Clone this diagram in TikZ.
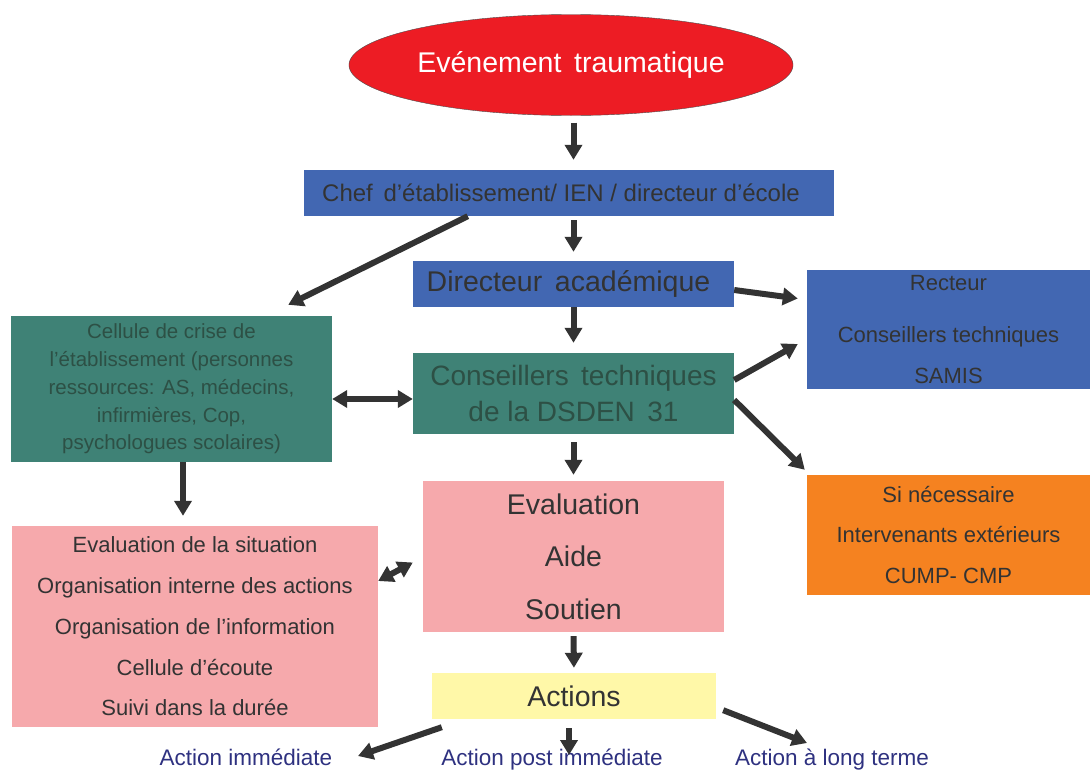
\documentclass[tikz,border=0pt]{standalone}
\usepackage{fontspec}
\setmainfont{Liberation Sans}
\usetikzlibrary{shapes.geometric,arrows.meta}
\definecolor{evtred}{RGB}{237,28,36}
\definecolor{boxblue}{RGB}{66,103,178}
\definecolor{boxteal}{RGB}{63,130,118}
\definecolor{tealtext}{RGB}{45,80,69}
\definecolor{boxpink}{RGB}{246,169,172}
\definecolor{boxorange}{RGB}{245,130,32}
\definecolor{boxyellow}{RGB}{255,248,168}
\definecolor{textgray}{RGB}{51,51,51}
\definecolor{arrgray}{RGB}{51,51,51}
\definecolor{labnavy}{RGB}{46,49,128}
\begin{document}
\begin{tikzpicture}[x=1pt,y=-1pt,
    box/.style={rectangle,inner sep=0pt,align=center,text=textgray},
    arr/.style={draw=arrgray,line width=6pt,-{Triangle[length=15pt,width=17pt]}},
    darr/.style={draw=arrgray,line width=6pt,{Triangle[length=15pt,width=17pt]}-{Triangle[length=15pt,width=17pt]}},
    lab/.style={anchor=base,inner sep=0pt,text=labnavy,font=\fontsize{22.5}{26}\selectfont}]
    \useasboundingbox (0,0) rectangle (1090,771);

    % boxes
    \node[ellipse,draw=black!70,thin,fill=evtred,text=white,minimum width=400pt,minimum height=101pt,
          font=\fontsize{28.5}{32}\selectfont] (evt) at (571,65) {Evénement\, traumatique};
    \node[box,fill=boxblue,minimum width=530pt,minimum height=46pt,font=\fontsize{24}{28}\selectfont]
          (chef) at (569,193) {Chef\, d’établissement/ IEN / directeur d’école\hspace{16pt}};
    \node[box,fill=boxblue,minimum width=321pt,minimum height=46pt,font=\fontsize{28.5}{32}\selectfont]
          (dir) at (573.5,284) {Directeur\, académique\hspace{10pt}};
    \node[box,fill=boxteal,text=tealtext,minimum width=321pt,minimum height=146pt,font=\fontsize{20.5}{27.8}\selectfont]
          (cell) at (171.5,389) {Cellule de crise de\\l’établissement (personnes\\ressources: AS, médecins,\\infirmières, Cop,\\psychologues scolaires)};
    \node[box,fill=boxteal,text=tealtext,minimum width=321pt,minimum height=81pt,font=\fontsize{28}{36}\selectfont]
          (dsden) at (573.5,393.5) {Conseillers\, techniques\\de la DSDEN\, 31};
    \node[box,fill=boxblue,minimum width=283pt,minimum height=119pt,font=\fontsize{22}{41}\selectfont]
          (rect) at (948.5,329.5) {Recteur\\[11pt]Conseillers techniques\\SAMIS};
    \node[box,fill=boxorange,minimum width=283pt,minimum height=120pt,font=\fontsize{22}{40.5}\selectfont]
          (ext) at (948.5,535) {Si nécessaire\\Intervenants extérieurs\\CUMP- CMP};
    \node[box,fill=boxpink,minimum width=366pt,minimum height=201pt,font=\fontsize{22}{40.7}\selectfont]
          (org) at (195,626.5) {Evaluation de la situation\\Organisation interne des actions\\Organisation de l’information\\Cellule d’écoute\\Suivi dans la durée};
    \node[box,fill=boxpink,minimum width=301pt,minimum height=151pt,font=\fontsize{28.5}{52.5}\selectfont]
          (eval) at (573.5,556.5) {Evaluation\\Aide\\Soutien};
    \node[box,fill=boxyellow,minimum width=284pt,minimum height=46pt,font=\fontsize{28.5}{32}\selectfont]
          (act) at (574,696) {Actions};

    % bottom labels
    \node[lab] (im) at (246,765) {Action immédiate};
    \node[lab] (post) at (552,765) {Action post immédiate};
    \node[lab] (long) at (832,765) {Action à long terme};

    % arrows
    \draw[arr,shorten <=7pt,shorten >=10pt] (evt.south -| dir) -- (chef.north -| dir);
    \draw[arr,shorten <=4pt,shorten >=9pt] (chef.south -| dir) -- (dir.north);
    \draw[arr,shorten >=10pt] (dir.south) -- (dsden.north);
    \draw[arr,shorten <=8pt,shorten >=6pt] (dsden.south) -- (eval.north);
    \draw[arr,shorten <=4pt,shorten >=5pt] (eval.south) -- (act.north);
    \draw[arr] ([xshift=164pt]chef.south west) -- ([xshift=-44pt,yshift=11pt]cell.north east);
    \draw[arr,shorten >=10pt] ([xshift=11.5pt]cell.south) -- ([xshift=-12pt]org.north);
    \draw[darr] ([yshift=-10pt]cell.east) -- ([yshift=-10pt]cell.east -| dsden.west);
    \draw[arr] ([yshift=-6pt]dir.east) -- ([xshift=-9pt,yshift=31pt]rect.west);
    \draw[arr] ([yshift=13.5pt]dsden.east) -- ([xshift=-9pt,yshift=-14.5pt]rect.west);
    \draw[arr] ([yshift=-6.5pt]dsden.east) -- ([xshift=-2pt,yshift=5pt]ext.north west);
    \draw[darr] ([xshift=-10pt,yshift=-6pt]eval.west) -- ([yshift=45.5pt]org.east);
    \draw[arr] ([xshift=10pt,yshift=-8pt]act.south west) -- ([xshift=112pt,yshift=9pt]im.base);
    \draw[arr] ([xshift=-5pt,yshift=-9pt]act.south) -- ([xshift=17pt,yshift=10pt]post.base);
    \draw[arr] ([xshift=7pt,yshift=9pt]act.south east) -- ([xshift=-25pt,yshift=22pt]long.base);
\end{tikzpicture}
\end{document}
